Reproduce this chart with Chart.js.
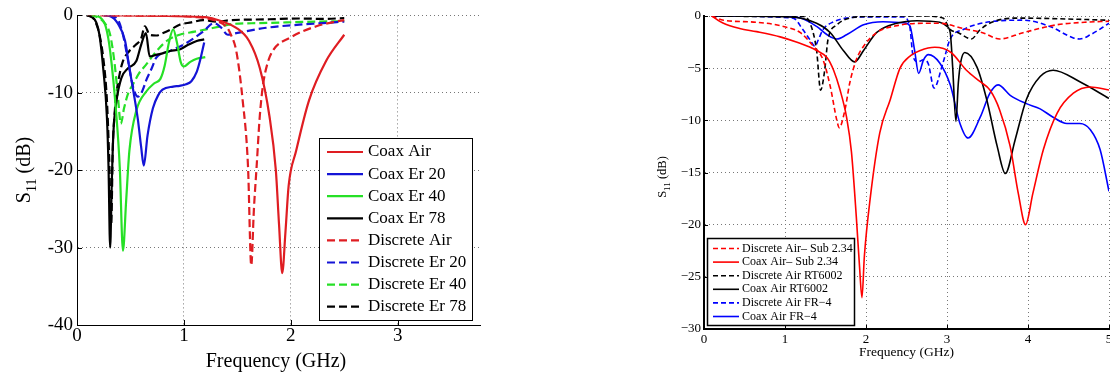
<!DOCTYPE html>
<html>
<head>
<meta charset="utf-8">
<script src="https://cdn.jsdelivr.net/npm/chart.js@4.4.0/dist/chart.umd.min.js"></script>
<style>
  body { margin: 0; background: #fff; width: 1110px; height: 376px; overflow: hidden; position: relative; }
  #left { position: absolute; left: 0; top: 0; }
  #right { position: absolute; left: 640px; top: 0; }
</style>
</head>
<body>
<canvas id="left" width="500" height="376"></canvas>
<canvas id="right" width="480" height="376"></canvas>
<script>
// ---- left plot: S11 of the feed types (GHz, dB) ----
const coaxAirF = [0.25, 0.8, 1.1, 1.24, 1.36, 1.49, 1.61, 1.71, 1.80, 1.86, 1.89, 1.92, 1.95, 1.98, 2.05, 2.17, 2.33, 2.50];
const coaxAirDb = [0, -0.05, -0.15, -0.3, -0.8, -1.6, -3.3, -6.8, -13, -20, -27, -33.3, -28, -22, -17.5, -11, -5.9, -2.5];

const coaxEr20F = [0.25, 0.31, 0.38, 0.45, 0.49, 0.53, 0.57, 0.60, 0.625, 0.66, 0.71, 0.76, 0.80, 0.90, 0.96, 1.02, 1.07, 1.12, 1.15, 1.19];
const coaxEr20Db = [0, -0.1, -1, -3.3, -6.8, -10, -13.5, -17, -19.4, -15.5, -12, -10.3, -9.6, -9.2, -9.1, -8.9, -8.5, -7.3, -5.9, -3.5];

const coaxEr40F = [0.14, 0.22, 0.27, 0.31, 0.37, 0.40, 0.43, 0.46, 0.49, 0.555, 0.65, 0.72, 0.78, 0.82, 0.86, 0.90, 0.935, 0.97, 1.0, 1.06, 1.12, 1.2];
const coaxEr40Db = [0, -0.3, -1.5, -4.6, -13.2, -19.6, -30.4, -23.9, -17.5, -12.3, -9.8, -8.8, -8.2, -6.5, -3.5, -1.8, -3.5, -6, -6.6, -6, -5.6, -5.4];

const coaxEr78F = [0.09, 0.14, 0.18, 0.21, 0.245, 0.28, 0.295, 0.31, 0.325, 0.34, 0.37, 0.415, 0.48, 0.555, 0.60, 0.645, 0.68, 0.74, 0.80, 0.87, 0.96, 1.04, 1.12, 1.19];
const coaxEr78Db = [0, -0.2, -0.9, -2.5, -6.8, -13.2, -19.6, -30, -21.8, -15.3, -11, -8.1, -6.8, -5.9, -3.8, -2.3, -5.3, -5.1, -4.9, -4.6, -4.4, -3.8, -3.3, -3.1];

const discAirF = [0.1, 0.8, 1.1, 1.3, 1.40, 1.44, 1.49, 1.55, 1.60, 1.63, 1.655, 1.68, 1.71, 1.74, 1.78, 1.83, 1.99, 2.24, 2.42, 2.5];
const discAirDb = [0, -0.05, -0.2, -0.7, -1.5, -2.5, -4.6, -11, -19.6, -32.3, -25, -19.6, -13, -9, -6.3, -4.6, -2.9, -1.4, -0.8, -0.6];

const discEr20F = [0.3, 0.38, 0.43, 0.48, 0.52, 0.57, 0.61, 0.65, 0.70, 0.74, 0.87, 1.02, 1.18, 1.28, 1.35, 1.41, 1.49, 1.77, 2.08, 2.3, 2.5];
const discEr20Db = [0, -0.5, -2.5, -6, -9, -10.5, -9.8, -8.3, -6.8, -5.5, -4.6, -3.6, -2.1, -1.0, -1.6, -2.5, -2.3, -1.6, -1.2, -1.0, -0.8];

const discEr40F = [0.12, 0.2, 0.27, 0.31, 0.35, 0.38, 0.41, 0.44, 0.48, 0.52, 0.58, 0.65, 0.71, 0.77, 0.85, 0.96, 1.1, 1.21, 1.35, 1.46, 1.7, 2.24, 2.5];
const discEr40Db = [0, -0.3, -1.2, -2.5, -6, -10, -14, -12, -10, -9, -7.5, -6.3, -5.2, -4.2, -3.2, -2.5, -2.1, -1.8, -1.4, -1.1, -1.0, -0.8, -0.75];

const discEr78F = [0.1, 0.16, 0.21, 0.25, 0.28, 0.30, 0.32, 0.335, 0.35, 0.37, 0.40, 0.43, 0.49, 0.55, 0.60, 0.635, 0.68, 0.74, 0.80, 0.88, 0.96, 1.07, 1.18, 1.3, 1.45, 1.6, 1.8, 2.08, 2.3, 2.5];
const discEr78Db = [0, -0.5, -2.5, -6, -11, -18, -27, -17, -13, -10, -7.5, -5.9, -4.6, -3.8, -3.0, -1.4, -2.5, -2.6, -2.3, -1.8, -1.2, -0.9, -0.6, -0.8, -0.6, -0.55, -0.5, -0.4, -0.45, -0.35];

// ---- right plot: substrates ----
const dSubF = [0.095, 0.24, 0.65, 0.98, 1.19, 1.35, 1.47, 1.56, 1.64, 1.67, 1.74, 1.80, 1.88, 1.97, 2.13, 2.4, 2.7, 2.91, 3.2, 3.44, 3.65, 3.94, 4.35, 4.7, 5.0];
const dSubDb = [0, -0.4, -0.6, -1.0, -1.6, -2.9, -4.2, -6.8, -10, -10.7, -9, -6.4, -4.2, -2.9, -1.6, -0.9, -0.7, -0.7, -1.2, -1.6, -2.2, -1.6, -0.85, -0.6, -0.5];

const cSubF = [0.095, 0.24, 0.44, 0.65, 0.94, 1.14, 1.39, 1.52, 1.60, 1.68, 1.76, 1.82, 1.88, 1.92, 1.95, 1.98, 2.05, 2.17, 2.30, 2.42, 2.55, 2.67, 2.85, 3.05, 3.24, 3.41, 3.53, 3.65, 3.78, 3.88, 3.97, 4.06, 4.19, 4.36, 4.56, 4.77, 5.0];
const cSubDb = [0, -0.7, -1.2, -1.5, -2.0, -2.5, -3.3, -4.0, -5.2, -7.1, -9.7, -13, -19.2, -24, -27, -23, -17.6, -11.2, -8, -5, -3.8, -3.3, -3.0, -3.5, -5.2, -6.3, -7.1, -9, -12.5, -17, -20, -17, -12.8, -9.3, -7.4, -6.8, -7.1];

const dRtF = [0.095, 0.86, 1.22, 1.31, 1.39, 1.44, 1.49, 1.53, 1.64, 1.80, 2.0, 2.7, 2.95, 3.04, 3.14, 3.3, 3.41, 3.57, 3.86, 5.0];
const dRtDb = [0, -0.05, -0.05, -0.7, -3.3, -7.1, -5.2, -2.3, -0.85, -0.2, -0.05, 0, -0.2, -1.3, -1.6, -2.2, -1.3, -0.55, -0.2, -0.4];

const cRtF = [0.095, 1.06, 1.39, 1.56, 1.72, 1.86, 1.97, 2.13, 2.38, 2.63, 2.91, 3.0, 3.04, 3.07, 3.11, 3.14, 3.17, 3.22, 3.37, 3.49, 3.62, 3.72, 3.84, 3.98, 4.15, 4.31, 4.64, 5.0];
const cRtDb = [0, -0.1, -0.7, -1.6, -3.3, -4.4, -3.3, -1.6, -0.7, -0.45, -0.6, -1.0, -1.6, -4.9, -10.1, -6.4, -4.4, -3.5, -4.9, -8, -12.5, -15.1, -11.9, -8, -5.8, -5.2, -6.3, -7.9];

const dFrF = [0.095, 1.1, 1.22, 1.31, 1.37, 1.41, 1.47, 1.6, 1.76, 1.97, 2.46, 2.54, 2.58, 2.64, 2.71, 2.77, 2.84, 2.95, 3.04, 3.2, 3.53, 3.94, 4.27, 4.56, 4.64, 4.77, 5.0];
const dFrDb = [0, -0.2, -1.3, -2.3, -2.9, -2.3, -1.3, -0.55, -0.2, -0.1, -0.1, -1.0, -3.8, -4.4, -4.2, -4.6, -6.9, -4.5, -2.2, -1.3, -0.55, -0.4, -1.0, -2.1, -2.2, -1.8, -0.7];

const cFrF = [0.095, 0.86, 1.19, 1.39, 1.52, 1.64, 1.76, 1.97, 2.21, 2.46, 2.54, 2.60, 2.65, 2.71, 2.77, 2.91, 3.04, 3.16, 3.26, 3.41, 3.53, 3.63, 3.78, 3.98, 4.15, 4.31, 4.48, 4.64, 4.77, 4.89, 5.0];
const cFrDb = [0, 0, -0.2, -1.0, -1.8, -2.2, -1.8, -0.85, -0.55, -0.65, -0.9, -3.3, -5.5, -4.2, -3.7, -4.5, -6.6, -10.3, -11.7, -9.7, -7.4, -6.6, -7.6, -8.4, -8.9, -9.7, -10.3, -10.3, -10.9, -12.8, -16.8];

const pts = (f, s) => f.map((x, i) => ({ x, y: s[i] }));

function line(label, f, s, color, dash, width) {
  return {
    label, data: pts(f, s), borderColor: color, borderWidth: width, borderDash: dash,
    pointRadius: 0, fill: false, tension: 0.4, cubicInterpolationMode: 'monotone'
  };
}

// axis titles, inward ticks and the boxed legend
const decor = {
  id: 'decor',
  afterDraw(chart, args, o) {
    const { ctx, chartArea: a, scales } = chart;
    const x = scales.x, y = scales.y;
    ctx.save();
    ctx.setLineDash([]);
    ctx.strokeStyle = '#000';
    ctx.lineWidth = 1;
    x.ticks.forEach(t => {
      const px = Math.round(x.getPixelForValue(t.value)) + 0.5;
      ctx.beginPath(); ctx.moveTo(px, a.bottom); ctx.lineTo(px, a.bottom - o.tickLen); ctx.stroke();
    });
    y.ticks.forEach(t => {
      const py = Math.round(y.getPixelForValue(t.value)) + 0.5;
      ctx.beginPath(); ctx.moveTo(a.left, py); ctx.lineTo(a.left + o.tickLen, py); ctx.stroke();
    });

    ctx.fillStyle = '#000';
    ctx.font = o.xTitleSize + 'px "Liberation Serif"';
    ctx.textAlign = 'center';
    ctx.textBaseline = 'middle';
    ctx.fillText('Frequency (GHz)', o.xTitle[0], o.xTitle[1]);

    // S11 (dB) with subscript, rotated
    ctx.save();
    ctx.translate(o.yTitle[0], o.yTitle[1]);
    ctx.rotate(-Math.PI / 2);
    const big = o.yTitleSize + 'px "Liberation Serif"';
    const small = Math.round(o.yTitleSize * 0.68) + 'px "Liberation Serif"';
    ctx.font = big;
    const wS = ctx.measureText('S').width, wT = ctx.measureText(' (dB)').width;
    ctx.font = small;
    const w11 = ctx.measureText('11').width;
    let cx = -(wS + w11 + wT) / 2;
    ctx.textAlign = 'left';
    ctx.font = big; ctx.fillText('S', cx, 0); cx += wS;
    ctx.font = small; ctx.fillText('11', cx, o.yTitleSize * 0.35); cx += w11;
    ctx.font = big; ctx.fillText(' (dB)', cx, 0);
    ctx.restore();

    const g = o.legend;
    ctx.fillStyle = '#fff';
    ctx.fillRect(g.x, g.y, g.w, g.h);
    ctx.lineWidth = g.border;
    ctx.strokeStyle = '#000';
    ctx.strokeRect(g.x + 0.5, g.y + 0.5, g.w, g.h);
    ctx.font = g.size + 'px "Liberation Serif"';
    ctx.textAlign = 'left';
    ctx.textBaseline = 'middle';
    chart.data.datasets.forEach((ds, i) => {
      const ly = g.first + i * g.step;
      ctx.strokeStyle = ds.borderColor;
      ctx.lineWidth = ds.borderWidth;
      ctx.setLineDash(ds.borderDash);
      ctx.beginPath(); ctx.moveTo(g.x0, ly); ctx.lineTo(g.x1, ly); ctx.stroke();
      ctx.setLineDash([]);
      ctx.fillStyle = '#000';
      ctx.fillText(ds.label, g.tx, ly);
    });
    ctx.restore();
  }
};

function axes(o) {
  const font = { family: 'Liberation Serif', size: o.fs };
  return {
    x: {
      type: 'linear', min: 0, max: o.xMax,
      afterFit: s => { s.height = o.xh; },
      ticks: { stepSize: 1, includeBounds: false, padding: o.xpad, maxRotation: 0, autoSkip: false, color: '#000', font, callback: o.fmt },
      grid: { color: '#777', lineWidth: 1, drawTicks: false },
      border: { color: '#000', width: o.bw, dash: [1, 3] }
    },
    y: {
      type: 'linear', min: o.yMin, max: 0,
      afterFit: s => { s.width = o.yw; },
      ticks: { stepSize: o.yStep, includeBounds: false, padding: o.ypad, color: '#000', font, callback: o.fmt },
      grid: { color: '#777', lineWidth: 1, drawTicks: false },
      border: { color: '#000', width: o.bw, dash: [1, 3] }
    }
  };
}

const RED = '#df1d22', BLUE = '#1414d6', GREEN = '#26e026';
const dashL = [8, 4];

new Chart('left', {
  type: 'line',
  data: {
    datasets: [
      line('Coax Air', coaxAirF, coaxAirDb, RED, [], 2.2),
      line('Coax Er 20', coaxEr20F, coaxEr20Db, BLUE, [], 2.2),
      line('Coax Er 40', coaxEr40F, coaxEr40Db, GREEN, [], 2.2),
      line('Coax Er 78', coaxEr78F, coaxEr78Db, '#000', [], 2.2),
      line('Discrete Air', discAirF, discAirDb, RED, dashL, 2.2),
      line('Discrete Er 20', discEr20F, discEr20Db, BLUE, dashL, 2.2),
      line('Discrete Er 40', discEr40F, discEr40Db, GREEN, dashL, 2.2),
      line('Discrete Er 78', discEr78F, discEr78Db, '#000', dashL, 2.2)
    ]
  },
  options: {
    responsive: false, animation: false, devicePixelRatio: 1,
    layout: { padding: { left: 0, right: 20, top: 14, bottom: 0 } },
    scales: axes({ xMax: 3.77, yMin: -40, yStep: 10, fs: 19, xh: 51, yw: 77, xpad: 0, ypad: 4, bw: 1 }),
    plugins: {
      legend: { display: false }, tooltip: { enabled: false },
      decor: {
        tickLen: 5, xTitle: [276, 362], xTitleSize: 20, yTitle: [25, 170], yTitleSize: 20,
        legend: { x: 319, y: 138, w: 153, h: 182, border: 1, first: 152, step: 22.1, x0: 327, x1: 363, tx: 368, size: 17 }
      }
    }
  },
  plugins: [decor]
});

const minus = v => (v < 0 ? '\u2212' + Math.abs(v) : String(v));
const dashR = [5, 3];

new Chart('right', {
  type: 'line',
  data: {
    datasets: [
      line('Discrete Air\u2013 Sub 2.34', dSubF, dSubDb, '#ff0000', dashR, 1.6),
      line('Coax Air\u2013 Sub 2.34', cSubF, cSubDb, '#ff0000', [], 1.6),
      line('Discrete Air RT6002', dRtF, dRtDb, '#000', dashR, 1.6),
      line('Coax Air RT6002', cRtF, cRtDb, '#000', [], 1.6),
      line('Discrete Air FR\u22124', dFrF, dFrDb, '#0000ff', dashR, 1.6),
      line('Coax Air FR\u22124', cFrF, cFrDb, '#0000ff', [], 1.6)
    ]
  },
  options: {
    responsive: false, animation: false, devicePixelRatio: 1,
    layout: { padding: { left: 0, right: 11, top: 16, bottom: 0 } },
    scales: axes({ xMax: 5, yMin: -30, yStep: 5, fs: 13, xh: 47, yw: 64, xpad: 3, ypad: 3, bw: 2, fmt: minus }),
    plugins: {
      legend: { display: false }, tooltip: { enabled: false },
      decor: {
        tickLen: 4, xTitle: [266.5, 352], xTitleSize: 13.5, yTitle: [23, 177], yTitleSize: 12.5,
        legend: { x: 67, y: 238, w: 147, h: 87, border: 1.5, first: 248.5, step: 13.6, x0: 73, x1: 99, tx: 102, size: 12 }
      }
    }
  },
  plugins: [decor]
});
</script>
</body>
</html>
